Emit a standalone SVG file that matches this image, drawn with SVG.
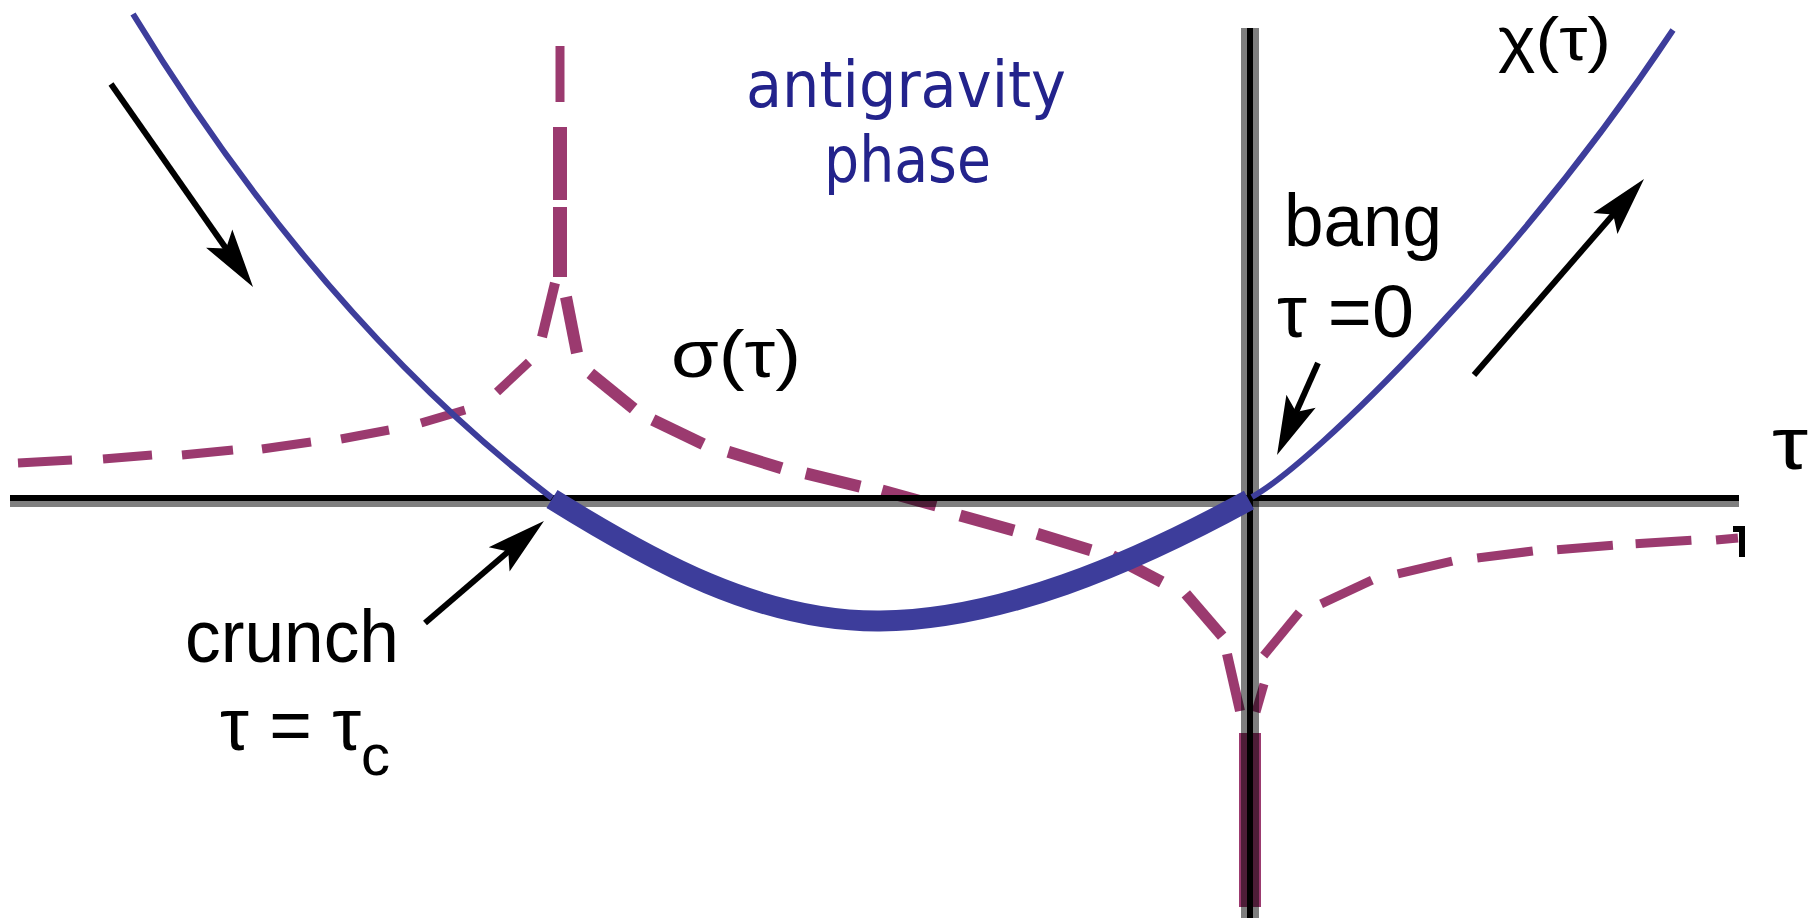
<svg xmlns="http://www.w3.org/2000/svg" width="1814" height="920" viewBox="0 0 1814 920">
<style>
.chi{fill:none;stroke:#3d3d9b;stroke-linecap:butt}
.sig line{stroke:#9b3a6f;stroke-linecap:butt;stroke-width:12}
.sig .t{stroke-width:9}
.sig .n{stroke-width:14}
.lbl{font-family:"Liberation Sans",Arial,sans-serif;fill:#000}
.ag{font-family:"DejaVu Sans",sans-serif;fill:#23238c}
.arr{stroke:#000;stroke-width:6;marker-end:url(#ah)}
</style>
<defs>
<marker id="ah" markerUnits="userSpaceOnUse" viewBox="-30 -25 80 50" markerWidth="80" markerHeight="50" refX="0" refY="0" orient="auto" overflow="visible">
<path d="M40,0 L-19,-16 L-7,0 L-19,16 Z" fill="#000"/>
</marker>
</defs>
<rect width="1814" height="920" fill="#fff"/>

<g id="sigma" class="sig">
<line class="t" x1="560" y1="46" x2="560" y2="102"/>
<line class="n" x1="560" y1="127" x2="560" y2="200"/>
<line class="n" x1="560" y1="207" x2="560" y2="277"/>
<line x1="555" y1="283" x2="542" y2="337" style="stroke-width:10"/>
<line x1="566" y1="297" x2="577" y2="353"/>
<line class="t" x1="529" y1="362" x2="497" y2="392"/>
<line class="t" x1="465" y1="410" x2="421" y2="423"/>
<line class="t" x1="389" y1="430" x2="341" y2="439"/>
<line class="t" x1="311" y1="442" x2="262" y2="449"/>
<line class="t" x1="233" y1="450" x2="182" y2="455"/>
<line class="t" x1="152" y1="455" x2="103" y2="459"/>
<line class="t" x1="72" y1="460" x2="18" y2="463"/>
<line x1="590.3" y1="373.3" x2="633.7" y2="408.7"/>
<line x1="652.8" y1="419.8" x2="703.2" y2="444.2"/>
<line x1="728.3" y1="451.7" x2="781.7" y2="468.3"/>
<line x1="805.8" y1="473.3" x2="860.2" y2="486.7"/>
<line x1="882" y1="490.5" x2="936" y2="505.5"/>
<line x1="960.1" y1="515.4" x2="1013.9" y2="530.6"/>
<line x1="1037.2" y1="533.8" x2="1090.8" y2="550.2"/>
<line x1="1112.2" y1="556" x2="1161.8" y2="582"/>
<line x1="1185.8" y1="593.8" x2="1222.2" y2="636.2" style="stroke-width:11"/>
<line x1="1227" y1="654" x2="1240" y2="711" style="stroke-width:10"/>
<rect x="1239" y="733" width="22" height="174" fill="#9b3a6f"/>
<line class="t" x1="1256" y1="712" x2="1264" y2="684"/>
<line class="t" x1="1263.7" y1="655.6" x2="1299.3" y2="612.4"/>
<line class="t" x1="1321.1" y1="603.8" x2="1371.9" y2="580.2"/>
<line class="t" x1="1397.8" y1="573.9" x2="1452.2" y2="561.1"/>
<line class="t" x1="1477.2" y1="558" x2="1532.8" y2="551"/>
<line class="t" x1="1557.1" y1="549.7" x2="1612.9" y2="545.3"/>
<line class="t" x1="1635.6" y1="543.7" x2="1691.4" y2="540.3"/>
<line class="t" x1="1716" y1="540" x2="1738" y2="538"/>
</g>

<g id="axes">
<rect x="10" y="495" width="1729" height="6" fill="#000"/>
<rect x="10" y="501" width="1729" height="6" fill="#000" fill-opacity="0.5"/>
<rect x="1241" y="28" width="18" height="890" fill="#000" fill-opacity="0.5"/>
<rect x="1247" y="28" width="6" height="890" fill="#000"/>
<rect x="1733" y="526" width="12" height="6" fill="#000"/>
<rect x="1739" y="526" width="6" height="31" fill="#000"/>
</g>

<g id="chi" class="chi">
<path d="M133,14 Q320,320 552,498" stroke-width="6"/>
<path d="M552,499 C650,560 760,622 880,621 C1000,620 1130,565 1249,500" stroke-width="21"/>
<path d="M1252,497 C1315,462 1520,260 1673,30" stroke-width="6"/>
</g>

<g id="arrows">
<line class="arr" x1="111" y1="84" x2="230.1" y2="254.2"/>
<line class="arr" x1="1474" y1="375" x2="1617.8" y2="209.2"/>
<line class="arr" x1="1318" y1="363" x2="1293.3" y2="418.5"/>
<line class="arr" x1="425" y1="623" x2="513.6" y2="547"/>
</g>

<g id="labels">
<text class="ag" x="746" y="107" font-size="64" textLength="320" lengthAdjust="spacingAndGlyphs">antigravity</text>
<text class="ag" x="824" y="182" font-size="64" textLength="167" lengthAdjust="spacingAndGlyphs">phase</text>
<text class="lbl" x="671" y="377" font-size="66" textLength="130" lengthAdjust="spacingAndGlyphs">σ(τ)</text>
<text class="lbl" x="1498" y="60" font-size="62" textLength="113" lengthAdjust="spacingAndGlyphs">χ(τ)</text>
<text class="lbl" x="1284" y="246" font-size="75" textLength="158" lengthAdjust="spacingAndGlyphs">bang</text>
<text class="lbl" x="1277" y="337" font-size="75" textLength="137" lengthAdjust="spacingAndGlyphs">τ =0</text>
<text class="lbl" x="1772" y="469" font-size="75" textLength="36" lengthAdjust="spacingAndGlyphs">τ</text>
<text class="lbl" x="185" y="662" font-size="75" textLength="214" lengthAdjust="spacingAndGlyphs">crunch</text>
<text class="lbl" x="220" y="750" font-size="75"><tspan textLength="141" lengthAdjust="spacingAndGlyphs">τ = τ</tspan><tspan x="361" y="775" font-size="58">c</tspan></text>
</g>
</svg>
